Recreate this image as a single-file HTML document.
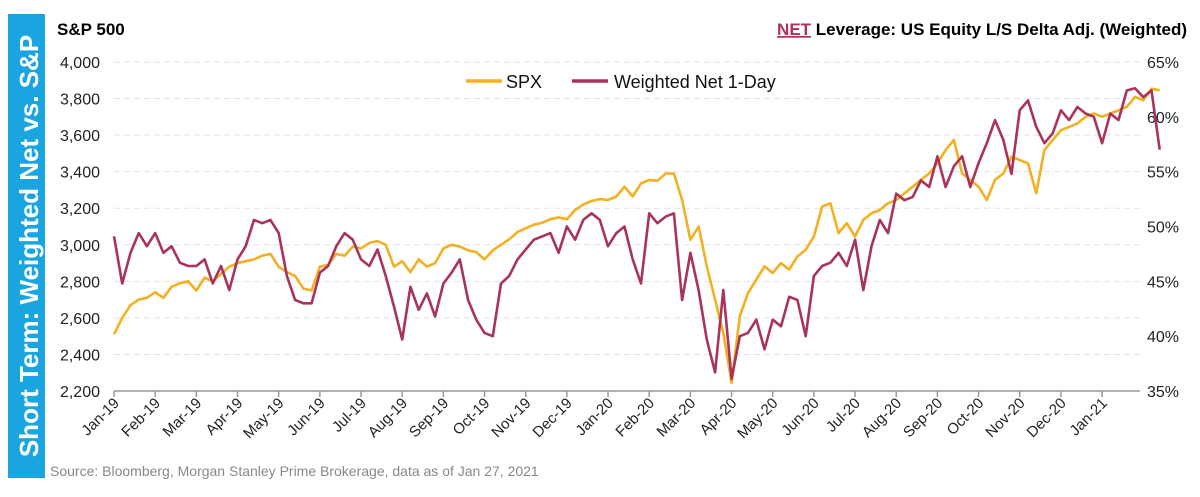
<!DOCTYPE html>
<html><head><meta charset="utf-8"><style>
body{margin:0;background:#fff;width:1200px;height:492px;overflow:hidden;font-family:"Liberation Sans",sans-serif}
</style></head><body>
<svg id="chart" width="1200" height="492" viewBox="0 0 1200 492" xmlns="http://www.w3.org/2000/svg" font-family="Liberation Sans, sans-serif">
<rect x="8" y="14" width="37" height="464" fill="#1BA5E0"/>
<text transform="translate(38,246) rotate(-90)" text-anchor="middle" font-size="26" font-weight="bold" fill="#fff">Short Term: Weighted Net vs. S&amp;P</text>
<text x="57" y="35" font-size="17" font-weight="bold" fill="#000">S&amp;P 500</text>
<text x="1187" y="35" text-anchor="end" font-size="17" font-weight="bold" fill="#000"><tspan fill="#A8345A" text-decoration="underline">NET</tspan> Leverage: US Equity L/S Delta Adj. (Weighted)</text>
<text x="50" y="476" font-size="14" fill="#888">Source: Bloomberg, Morgan Stanley Prime Brokerage, data as of Jan 27, 2021</text>
<g id="grid"></g><g id="axes"></g><g id="series"></g>
<g>
<line x1="466" y1="81" x2="502" y2="81" stroke="#F2B022" stroke-width="3.5"/>
<text x="506" y="88" font-size="18" fill="#111">SPX</text>
<line x1="572" y1="81" x2="608" y2="81" stroke="#A8345A" stroke-width="3.5"/>
<text x="614" y="88" font-size="18" fill="#111">Weighted Net 1-Day</text>
</g>
</svg>
<script>
const monthLabels=["Jan-19","Feb-19","Mar-19","Apr-19","May-19","Jun-19","Jul-19","Aug-19","Sep-19","Oct-19","Nov-19","Dec-19","Jan-20","Feb-20","Mar-20","Apr-20","May-20","Jun-20","Jul-20","Aug-20","Sep-20","Oct-20","Nov-20","Dec-20","Jan-21"];
const leftTicks=[2200,2400,2600,2800,3000,3200,3400,3600,3800,4000];
const rightTicks=[35,40,45,50,55,60,65];
const spx=[2510,2600,2670,2700,2710, 2740,2710,2770,2790,2800, 2750,2820,2800,2840,2880, 2900,2910,2920,2940,2950,
2880,2850,2830,2760,2750, 2880,2890,2950,2940,2990, 2980,3010,3020,3000,2880, 2910,2850,2920,2880,2900,
2980,3000,2990,2970,2960, 2920,2970,3000,3030,3070, 3090,3110,3120,3140,3150, 3140,3190,3220,3240,3250,
3245,3264,3318,3264,3336, 3355,3350,3390,3390,3245, 3027,3100,2882,2700,2518, 2245,2609,2736,2809,2882,
2845,2900,2864,2936,2973, 3045,3209,3227,3064,3118, 3045,3136,3173,3190,3227, 3245,3282,3318,3355,3390,
3445,3518,3573,3390,3355, 3318,3245,3355,3390,3482, 3464,3445,3282,3518,3573, 3627,3645,3664,3700,3718,
3700,3718,3736,3755,3809, 3791,3854,3845];
const net=[49.1,44.8,47.6,49.4,48.2, 49.4,47.6,48.2,46.7,46.4, 46.4,47,44.8,46.4,44.2, 47,48.2,50.6,50.3,50.6,
49.4,45.5,43.3,43,43, 45.8,46.4,48.2,49.4,48.8, 47,46.4,47.9,45.5,42.7, 39.7,44.5,42.4,43.9,41.8,
44.8,45.8,47,43.3,41.5, 40.3,40,44.8,45.5,47, 47.9,48.8,49.1,49.4,47.6, 50,48.8,50.6,51.2,50.6,
48.2,49.4,50,47,44.8, 51.2,50.3,50.9,51.2,43.3, 47.6,44.2,39.7,36.7,44.2, 36.1,40,40.3,41.5,38.8,
41.5,40.9,43.6,43.3,40, 45.5,46.4,46.7,47.6,46.4, 48.8,44.2,48.2,50.6,49.4, 53,52.4,52.7,54.2,53.6,
56.4,53.6,55.5,56.4,53.6, 55.8,57.6,59.7,57.9,54.8, 60.6,61.5,59.1,57.6,58.5, 60.6,59.7,60.9,60.3,60,
57.6,60.3,59.7,62.4,62.6, 61.8,62.4,57];
const NS='http://www.w3.org/2000/svg';
const X0=114,MW=41.17,Y0=391,Y1=62,PR=1140;
const xm=m=>X0+m*MW;
const xi=i=>xm(i/5);
const yL=v=>Y0-(v-2200)/(4000-2200)*(Y0-Y1);
const yR=v=>Y0-(v-35)/(65-35)*(Y0-Y1);
function mk(tag,attrs,parent){const e=document.createElementNS(NS,tag);for(const k in attrs)e.setAttribute(k,attrs[k]);parent.appendChild(e);return e;}
const grid=document.getElementById('grid'),axes=document.getElementById('axes'),ser=document.getElementById('series');
leftTicks.forEach((t,i)=>{
  if(t>2200){const g=mk('line',{x1:X0,x2:PR,y1:yL(t),y2:yL(t),stroke:'#e2e2e2','stroke-dasharray':'6,4'},grid);
  
  }
  const l=mk('text',{x:100,y:yL(t)+6,'text-anchor':'end','font-size':'16',fill:'#222'},axes);
  l.textContent=t.toLocaleString('en-US');
  
  
});
rightTicks.forEach(t=>{
  const l=mk('text',{x:1147,y:yR(t)+6,'font-size':'16',fill:'#222'},axes);
  l.textContent=t+'%';
  
  
});
const ax=mk('line',{x1:X0,x2:PR,y1:Y0,y2:Y0,stroke:'#999','stroke-width':1.5},axes);


monthLabels.forEach((m,i)=>{
  const x=xm(i);
  const tk=mk('line',{x1:x,x2:x,y1:Y0,y2:Y0+6,stroke:'#999','stroke-width':1.5},axes);
  
  
  const l=mk('text',{'text-anchor':'end','font-size':'15',fill:'#222',transform:`translate(${x+6},${Y0+13}) rotate(-45)`},axes);
  l.textContent=m;
  
  
});
const p1=mk('path',{d:spx.map((v,i)=>(i?'L':'M')+xi(i).toFixed(1)+','+yL(v).toFixed(1)).join(''),fill:'none',stroke:'#F2B022','stroke-width':2.6,'stroke-linejoin':'round'},ser);


const p2=mk('path',{d:net.map((v,i)=>(i?'L':'M')+xi(i).toFixed(1)+','+yR(v).toFixed(1)).join(''),fill:'none',stroke:'#A8345A','stroke-width':2.6,'stroke-linejoin':'round'},ser);


</script>
</body></html>
